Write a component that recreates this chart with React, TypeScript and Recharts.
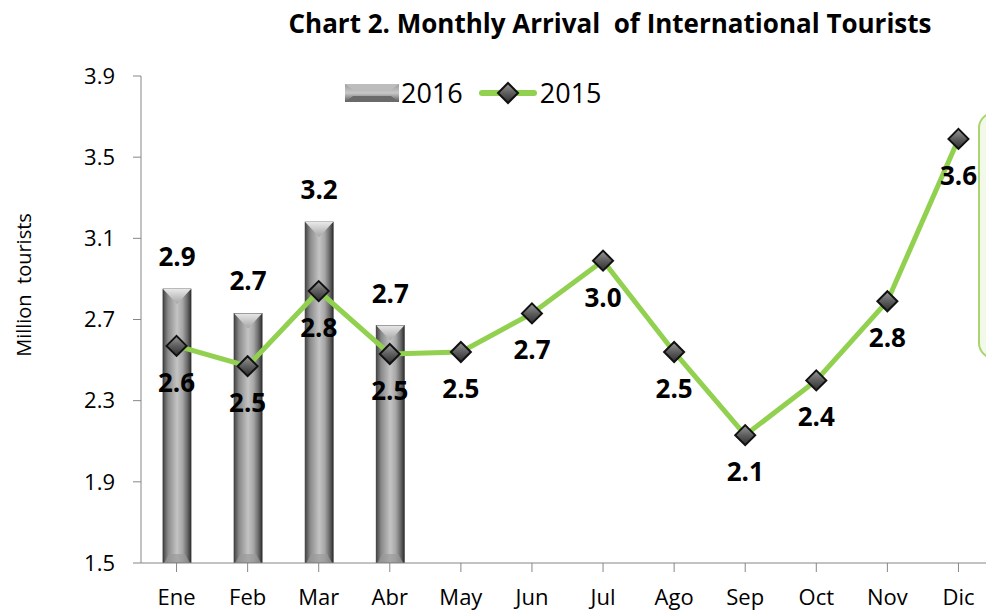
import { Bar, ComposedChart, LabelList, Line, XAxis, YAxis } from 'recharts'

const months = ['Ene', 'Feb', 'Mar', 'Abr', 'May', 'Jun', 'Jul', 'Ago', 'Sep', 'Oct', 'Nov', 'Dic']
const arrivals2016 = [2.85, 2.73, 3.18, 2.67, null, null, null, null, null, null, null, null]
const arrivals2015 = [2.57, 2.47, 2.84, 2.53, 2.54, 2.73, 2.99, 2.54, 2.13, 2.4, 2.79, 3.59]
const yTicks = [1.5, 1.9, 2.3, 2.7, 3.1, 3.5, 3.9]

const data = months.map((month, i) => ({
  month,
  y2016: arrivals2016[i],
  y2015: arrivals2015[i],
}))

const FONT = '"Open Sans", Lato, sans-serif'
const GREEN = '#92d050'

// rounds half up so 2.85 shows as 2.9 like the source labels
const fmt = (v: number) => (Math.round(v * 10 + 1e-6) / 10).toFixed(1)

function GlassBar(props: any) {
  const { x, y, width, height } = props
  if (!height || height <= 0) return null
  const cap = Math.min(15, height / 2)
  const mid = x + width / 2
  return (
    <g>
      <rect x={x} y={y} width={width} height={height} fill="url(#barBody)" stroke="#333" strokeWidth={0.8} />
      <polygon points={`${x},${y} ${x + width},${y} ${mid},${y + cap}`} fill="url(#barCap)" />
      <polygon
        points={`${x + 1},${y + height} ${x + width - 1},${y + height} ${x + width - 6},${y + height - 9} ${x + 6},${y + height - 9}`}
        fill="#9a9a9a"
        opacity={0.7}
      />
    </g>
  )
}

function DiamondDot(props: any) {
  const { cx, cy } = props
  if (cx == null || cy == null) return null
  const r = 10
  return (
    <polygon
      points={`${cx},${cy - r} ${cx + r},${cy} ${cx},${cy + r} ${cx - r},${cy}`}
      fill="url(#diamond)"
      stroke="#111"
      strokeWidth={2}
    />
  )
}

function BarValue(props: any) {
  const { x, y, width, value } = props
  if (value == null) return null
  return (
    <text x={x + width / 2} y={y - 30} textAnchor="middle" dominantBaseline="middle" fontSize={26} fontWeight={700} fill="#000" fontFamily={FONT}>
      {fmt(Number(value))}
    </text>
  )
}

function LineValue(props: any) {
  const { x, y, value } = props
  if (value == null) return null
  return (
    <text x={x} y={y + 39} textAnchor="middle" dominantBaseline="middle" fontSize={26} fontWeight={700} fill="#000" fontFamily={FONT}>
      {fmt(Number(value))}
    </text>
  )
}

function LegendBox() {
  return (
    <div style={{ position: 'absolute', left: 345, top: 75, display: 'flex', alignItems: 'center', fontFamily: FONT, fontSize: 27, color: '#000', lineHeight: '36px' }}>
      <svg width={54} height={18}>
        <defs>
          <linearGradient id="legendBar" x1="0" y1="0" x2="0" y2="1">
            <stop offset="0" stopColor="#9c9c9c" />
            <stop offset="0.5" stopColor="#c8c8c8" />
            <stop offset="1" stopColor="#5a5a5a" />
          </linearGradient>
          <linearGradient id="legendDiamond" x1="0" y1="0" x2="0" y2="1">
            <stop offset="0" stopColor="#9a9a9a" />
            <stop offset="0.5" stopColor="#5e5e5e" />
            <stop offset="1" stopColor="#2e2e2e" />
          </linearGradient>
        </defs>
        <rect x={0} y={0} width={54} height={18} fill="url(#legendBar)" />
        <polygon points="0,0 54,0 46,6 8,6" fill="#bdbdbd" />
        <polygon points="0,18 54,18 46,12 8,12" fill="#6a6a6a" />
      </svg>
      <span style={{ marginLeft: 2 }}>2016</span>
      <svg width={58} height={24} style={{ marginLeft: 16 }}>
        <line x1={3} y1={12} x2={55} y2={12} stroke={GREEN} strokeWidth={6} strokeLinecap="round" />
        <polygon points="29,2 39,12 29,22 19,12" fill="url(#legendDiamond)" stroke="#111" strokeWidth={2} />
      </svg>
      <span style={{ marginLeft: 3 }}>2015</span>
    </div>
  )
}

export default function App() {
  return (
    <div style={{ position: 'fixed', left: 0, top: 0, width: 986, height: 611, overflow: 'hidden', background: '#fff', fontFamily: FONT }}>
      <div
        style={{
          position: 'absolute',
          left: 978,
          top: 112,
          width: 40,
          height: 243,
          border: '2px solid #a9d46f',
          borderRadius: 16,
          background: '#f2f9e8',
        }}
      />
      <div
        style={{
          position: 'absolute',
          left: 210,
          top: 5,
          width: 800,
          textAlign: 'center',
          whiteSpace: 'pre',
          fontSize: 26,
          fontWeight: 700,
          color: '#000',
        }}
      >
        Chart 2. Monthly Arrival  of International Tourists
      </div>
      <div
        style={{
          position: 'absolute',
          left: 23,
          top: 285,
          transform: 'translate(-50%, -50%) rotate(-90deg)',
          whiteSpace: 'pre',
          fontSize: 20,
          color: '#000',
        }}
      >
        Million  tourists
      </div>
      <div style={{ position: 'absolute', left: 0, top: 0 }}>
        <ComposedChart width={1010} height={611} data={data} margin={{ top: 76, right: 16, bottom: 0, left: 0 }}>
          <defs>
            <linearGradient id="barBody" x1="0" y1="0" x2="1" y2="0">
              <stop offset="0" stopColor="#444" />
              <stop offset="0.18" stopColor="#8a8a8a" />
              <stop offset="0.5" stopColor="#c4c4c4" />
              <stop offset="0.7" stopColor="#a6a6a6" />
              <stop offset="0.88" stopColor="#666" />
              <stop offset="1" stopColor="#303030" />
            </linearGradient>
            <linearGradient id="barCap" x1="0" y1="0" x2="0" y2="1">
              <stop offset="0" stopColor="#e8e8e8" />
              <stop offset="1" stopColor="#a5a5a5" />
            </linearGradient>
            <linearGradient id="diamond" x1="0" y1="0" x2="0" y2="1">
              <stop offset="0" stopColor="#9a9a9a" />
              <stop offset="0.5" stopColor="#5e5e5e" />
              <stop offset="1" stopColor="#2e2e2e" />
            </linearGradient>
          </defs>
          <XAxis
            dataKey="month"
            height={48}
            stroke="#868686"
            tick={{ fill: '#000', fontSize: 22, fontFamily: FONT }}
            tickSize={9}
            tickMargin={17}
            tickLine={{ stroke: '#868686' }}
            axisLine={{ stroke: '#868686' }}
          />
          <YAxis
            width={141}
            domain={[1.5, 3.9]}
            ticks={yTicks}
            allowDataOverflow
            tickFormatter={(v: number) => v.toFixed(1)}
            tick={{ fill: '#000', fontSize: 22, fontFamily: FONT }}
            tickSize={8}
            tickMargin={18}
            tickLine={{ stroke: '#868686' }}
            axisLine={{ stroke: '#868686' }}
          />
          <Bar dataKey="y2016" name="2016" barSize={28} shape={<GlassBar />} isAnimationActive={false}>
            <LabelList dataKey="y2016" content={<BarValue />} />
          </Bar>
          <Line
            dataKey="y2015"
            name="2015"
            stroke={GREEN}
            strokeWidth={5}
            dot={<DiamondDot />}
            activeDot={false}
            isAnimationActive={false}
          >
            <LabelList dataKey="y2015" content={<LineValue />} />
          </Line>
        </ComposedChart>
      </div>
      <LegendBox />
    </div>
  )
}
